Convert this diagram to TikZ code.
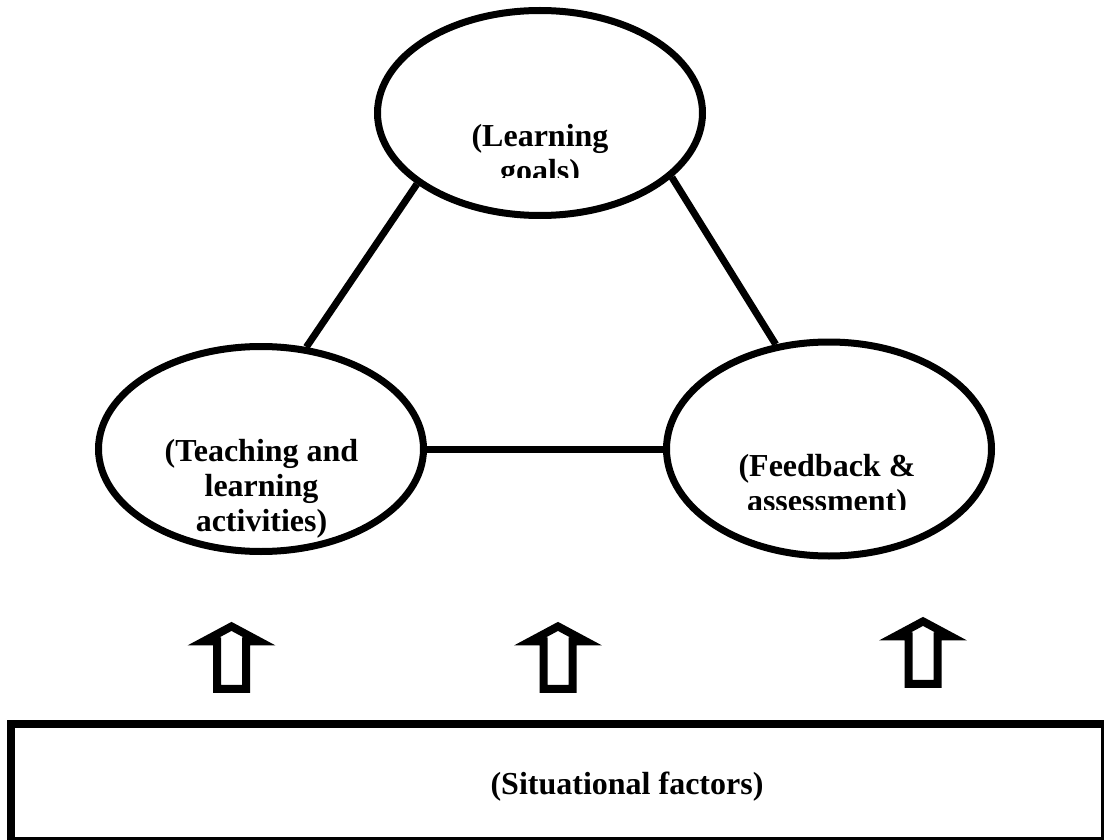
\documentclass[tikz,border=0pt]{standalone}
\usepackage{fontspec}
\setmainfont{Liberation Serif}
\usetikzlibrary{shapes.geometric}
\begin{document}
\begin{tikzpicture}[x=1pt,y=-1pt,
  oval/.style={draw, ellipse, line width=7pt, inner sep=0pt, minimum width=325pt, minimum height=205pt},
  link/.style={line width=7pt},
  lbl/.style={font=\fontsize{32}{35}\selectfont\bfseries, align=center, inner sep=0pt, anchor=base},
  blockarrow/.style={line width=8pt, line join=miter},
  uparrow/.pic={\draw[blockarrow] (0,0) -- (28,15) -- (14.5,15) -- (14.5,62.5) -- (-14.5,62.5) -- (-14.5,15) -- (-28,15) -- cycle;},
  frame/.style={draw, line width=8pt, inner sep=0pt, minimum width=1094pt, minimum height=117.5pt}
]
\useasboundingbox (0,0) rectangle (1104,840);
\clip (0,0) rectangle (1104,840);
% ellipses
\node[oval] (goals) at (540,113) {};
\node[oval] (teach) at (261,449) {};
\node[oval, minimum height=214pt] (feed) at (829,449) {};
% connectors
\draw[link] (goals.210.4) -- (teach.66.7);
\draw[link] (goals.334.1) -- (feed.117.8);
\draw[link] (teach.east) -- (feed.west);
% labels (anchor base = baseline of the last line)
\begin{scope}
  \clip (0,0) rectangle (1104,178);
  \node[lbl] (tgoals) at (540,181.7) {(Learning\\goals)};
\end{scope}
\node[lbl] (tteach) at (261.5,531) {(Teaching and\\learning\\activities)};
\begin{scope}
  \clip (0,0) rectangle (1104,509);
  \node[lbl] (tfeed) at (827,511.7) {(Feedback \&\\assessment)};
\end{scope}
% block arrows
\pic (arr1) at (231.5,626.4) {uparrow};
\pic (arr2) at (558,626.4) {uparrow};
\pic (arr3) at (923,621.4) {uparrow};
% situational factors box
\node[frame] (box) at (558,782.25) {};
\node[lbl] (tbox) at (627,794) {(Situational factors)};
\end{tikzpicture}
\end{document}
